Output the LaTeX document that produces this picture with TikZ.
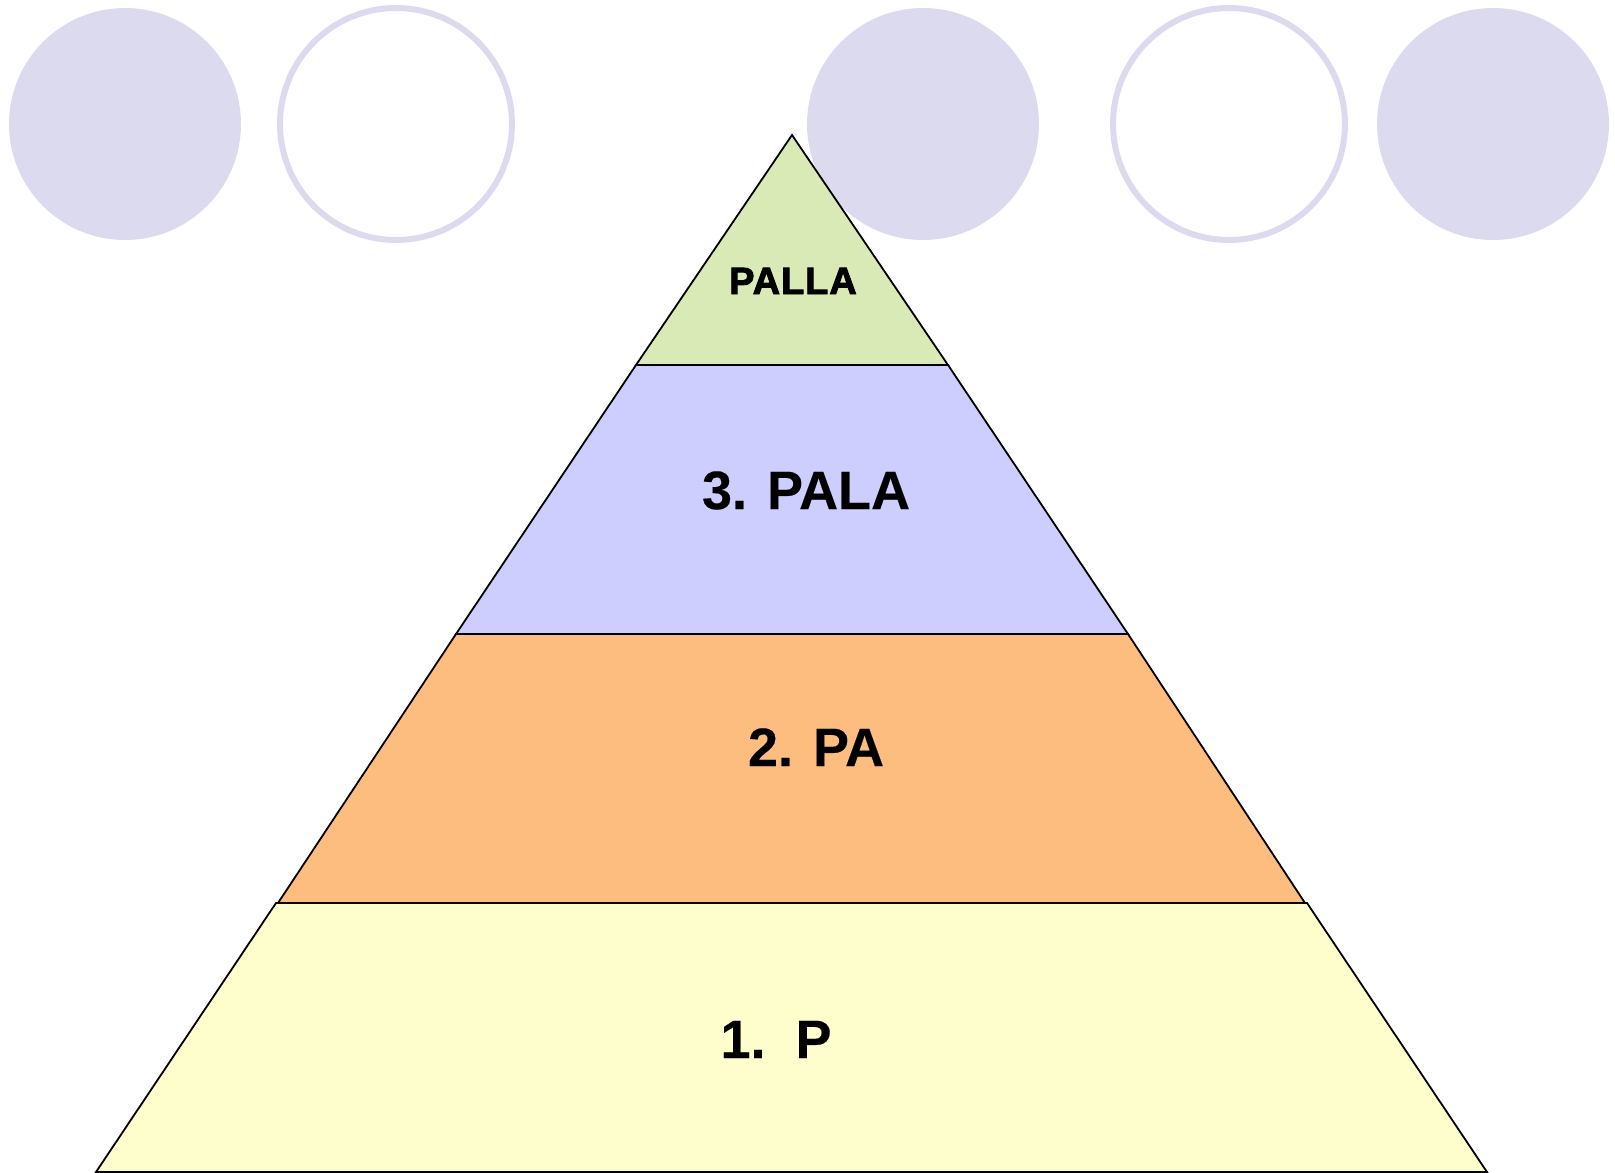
\documentclass[tikz,border=0pt]{standalone}
\usepackage{fontspec}
\setmainfont{Liberation Sans}
\newfontfamily\palfont[FakeBold=2.5,LetterSpace=2.5]{Liberation Sans Bold}
\newfontfamily\bigfont[FakeBold=0.3]{Liberation Sans Bold}
\definecolor{dotc}{HTML}{DCDAEE}
\definecolor{greenc}{HTML}{DAEAB6}
\definecolor{purplec}{HTML}{CDCDFE}
\definecolor{orangec}{HTML}{FDBD7E}
\definecolor{yellowc}{HTML}{FEFDCC}
\tikzset{
  dotfill/.style={fill=dotc, draw=none},
  dotring/.style={draw=dotc, line width=6pt, fill=white},
  layer/.style={draw=black, line width=1.8pt, line join=miter},
  lbl/.style={anchor=base, inner sep=0pt}
}
\begin{document}
\begin{tikzpicture}[x=1pt,y=-1pt]
\useasboundingbox (0,0) rectangle (1615,1173);
% circles
\fill[dotfill] (125,124) circle [radius=116];
\draw[dotring] (396,124) circle [radius=116];
\fill[dotfill] (923,124) circle [radius=116];
\draw[dotring] (1229,124) circle [radius=116];
\fill[dotfill] (1493,124) circle [radius=116];
% pyramid layers
\draw[layer, fill=yellowc] (276,903) -- (1307,903) -- (1487,1172) -- (96,1172) -- cycle;
\draw[layer, fill=orangec] (456,634) -- (1128,634) -- (1305,903) -- (278,903) -- cycle;
\draw[layer, fill=purplec] (636,365) -- (948,365) -- (1128,634) -- (456,634) -- cycle;
\draw[layer, fill=greenc] (792,135) -- (948,365) -- (636,365) -- cycle;
% labels
\node[lbl, font=\fontsize{38}{44}\palfont] (t4) at (793,294) {PALLA};
\node[lbl, font=\fontsize{54}{62}\bigfont] (t3) at (806,509) {3. PALA};
\node[lbl, font=\fontsize{54}{62}\bigfont] (t2) at (816,766) {2. PA};
\node[lbl, font=\fontsize{54}{62}\bigfont] (t1) at (776,1058) {1.\ \ P};
\end{tikzpicture}
\end{document}
